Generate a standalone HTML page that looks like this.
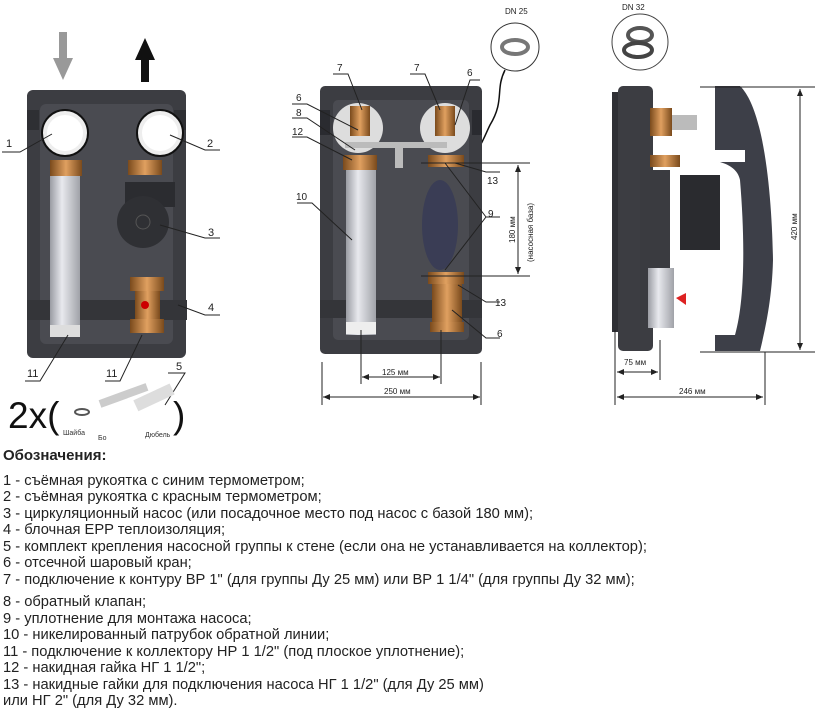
<!DOCTYPE html>
<html><head><meta charset="utf-8"><style>
body{margin:0;background:#fff;width:817px;height:711px;overflow:hidden;position:relative;font-family:"Liberation Sans",sans-serif;}
svg{position:absolute;left:0;top:0}
.t{position:absolute;left:3px;font-size:14.7px;color:#222;white-space:nowrap;line-height:17px}
</style></head><body>
<svg width="817" height="440" viewBox="0 0 817 440" font-family="Liberation Sans, sans-serif">
<defs>
<linearGradient id="pipe" x1="0" x2="1"><stop offset="0" stop-color="#9a9ca3"/><stop offset=".4" stop-color="#e8e9ee"/><stop offset="1" stop-color="#a0a2a8"/></linearGradient>
<linearGradient id="brass" x1="0" x2="1"><stop offset="0" stop-color="#7a4a1c"/><stop offset=".5" stop-color="#e0a060"/><stop offset="1" stop-color="#7a4a1c"/></linearGradient>
</defs>
<!-- LEFT -->
<rect x="59" y="32" width="8" height="28" fill="#999"/><polygon points="53,58 73,58 63,80" fill="#999"/>
<rect x="141" y="58" width="8" height="24" fill="#111"/><polygon points="135,60 155,60 145,38" fill="#111"/>
<rect x="27" y="90" width="159" height="268" rx="6" fill="#3c3d42"/>
<rect x="40" y="104" width="133" height="240" rx="6" fill="#4a4b51"/>
<rect x="27" y="110" width="12" height="20" fill="#2e2f33"/><rect x="174" y="110" width="12" height="20" fill="#2e2f33"/>
<rect x="27" y="300" width="160" height="20" fill="#343539"/>
<rect x="50" y="175" width="30" height="160" fill="url(#pipe)"/>
<rect x="50" y="325" width="30" height="12" fill="#ddd"/>
<rect x="50" y="160" width="32" height="16" fill="url(#brass)"/>
<rect x="128" y="160" width="34" height="15" fill="url(#brass)"/>
<circle cx="65" cy="133" r="23" fill="#eee" stroke="#111" stroke-width="2"/><circle cx="65" cy="133" r="18" fill="#fff"/>
<circle cx="160" cy="133" r="23" fill="#eee" stroke="#111" stroke-width="2"/><circle cx="160" cy="133" r="18" fill="#fff"/>
<rect x="125" y="182" width="50" height="25" fill="#2b2c30"/>
<circle cx="143" cy="222" r="26" fill="#2f3034"/><circle cx="143" cy="222" r="7" fill="none" stroke="#555"/>
<rect x="130" y="277" width="34" height="14" fill="url(#brass)"/>
<rect x="135" y="291" width="25" height="28" fill="url(#brass)"/>
<rect x="130" y="319" width="34" height="14" fill="url(#brass)"/>
<circle cx="145" cy="305" r="4" fill="#c00"/>
<g stroke="#222" fill="none" stroke-width="1">
<path d="M2,152 H20 L52,134"/><path d="M220,150 H205 L170,135"/><path d="M220,238 H205 L160,225"/><path d="M220,315 H205 L178,305"/>
<path d="M25,381 H40 L68,335"/><path d="M105,381 H120 L142,335"/><path d="M168,373 H185 L165,405"/>
</g>
<g font-size="11" fill="#222"><text x="6" y="147">1</text><text x="207" y="147">2</text><text x="208" y="236">3</text><text x="208" y="311">4</text><text x="27" y="377">11</text><text x="106" y="377">11</text><text x="176" y="370">5</text></g>
<text x="8" y="428" font-size="37" fill="#111">2x(</text><text x="173" y="428" font-size="37" fill="#111">)</text>
<ellipse cx="82" cy="412" rx="7" ry="3" fill="none" stroke="#555" stroke-width="2"/>
<rect x="100" y="400" width="50" height="8" fill="#ccc" transform="rotate(-20 100 404)"/>
<rect x="135" y="400" width="40" height="12" fill="#ddd" transform="rotate(-25 135 404)"/>
<g font-size="7" fill="#333"><text x="63" y="435">Шайба</text><text x="98" y="440">Бо</text><text x="145" y="437">Дюбель</text></g>
<!-- MIDDLE -->
<circle cx="515" cy="47" r="24" fill="#fff" stroke="#333"/><ellipse cx="515" cy="47" rx="13" ry="7" fill="none" stroke="#777" stroke-width="4"/>
<text x="505" y="14" font-size="8" fill="#222">DN 25</text>
<path d="M505,70 C495,90 505,100 490,125 C485,135 480,150 468,163" stroke="#111" fill="none" stroke-width="1.5"/>
<rect x="320" y="86" width="162" height="268" rx="5" fill="#3c3d42"/>
<rect x="333" y="100" width="136" height="240" rx="5" fill="#4a4b51"/>
<rect x="320" y="110" width="10" height="25" fill="#2a2b30"/><rect x="472" y="110" width="10" height="25" fill="#2a2b30"/>
<rect x="320" y="300" width="162" height="18" fill="#343539"/>
<circle cx="358" cy="128" r="25" fill="#ddd"/><circle cx="445" cy="128" r="25" fill="#ddd"/>
<rect x="350" y="106" width="20" height="30" fill="url(#brass)"/><rect x="435" y="106" width="20" height="30" fill="url(#brass)"/>
<rect x="345" y="142" width="102" height="6" fill="#bbb"/><rect x="395" y="148" width="8" height="20" fill="#bbb"/>
<rect x="343" y="155" width="34" height="15" fill="url(#brass)"/><rect x="428" y="155" width="36" height="12" fill="url(#brass)"/>
<rect x="346" y="170" width="30" height="165" fill="url(#pipe)"/><rect x="346" y="322" width="30" height="12" fill="#eee"/>
<ellipse cx="440" cy="225" rx="18" ry="45" fill="#3a3d55"/>
<rect x="428" y="272" width="36" height="12" fill="url(#brass)"/><rect x="432" y="284" width="30" height="38" fill="url(#brass)"/><rect x="430" y="322" width="34" height="10" fill="url(#brass)"/>
<g stroke="#222" fill="none" stroke-width="1">
<path d="M333,74 H348 L362,110"/><path d="M410,74 H425 L440,110"/><path d="M480,80 H470 L455,125"/>
<path d="M292,104 H307 L358,130"/><path d="M292,118 H307 L355,150"/><path d="M292,137 H307 L352,160"/>
<path d="M297,203 H312 L352,240"/><path d="M500,172 H486 L455,163"/><path d="M500,302 H486 L458,285"/>
<path d="M500,338 H486 L452,310"/><path d="M500,217 H486 L445,270 M486,217 L445,163"/>
<path d="M421,163 H530 M421,276 H530"/><path d="M361,330 V384 M441,330 V384"/>
<path d="M322,362 V405 M481,362 V405"/><path d="M518,165 V274"/><path d="M362,377 H440"/><path d="M323,397 H480"/>
</g>
<g fill="#222"><polygon points="518,165 515,172 521,172"/><polygon points="518,274 515,267 521,267"/>
<polygon points="362,377 369,374 369,380"/><polygon points="440,377 433,374 433,380"/>
<polygon points="323,397 330,394 330,400"/><polygon points="480,397 473,394 473,400"/></g>
<g font-size="10" fill="#222"><text x="337" y="71">7</text><text x="414" y="71">7</text><text x="467" y="76">6</text>
<text x="296" y="101">6</text><text x="296" y="116">8</text><text x="292" y="135">12</text><text x="296" y="200">10</text>
<text x="487" y="184">13</text><text x="488" y="217">9</text><text x="495" y="306">13</text><text x="497" y="337">6</text></g>
<text x="382" y="375" font-size="8" fill="#222">125 мм</text><text x="384" y="394" font-size="8" fill="#222">250 мм</text>
<text font-size="8" fill="#222" transform="translate(515,243) rotate(-90)">180 мм</text>
<text font-size="8" fill="#222" transform="translate(533,262) rotate(-90)">(насосная база)</text>
<!-- RIGHT -->
<text x="622" y="10" font-size="8" fill="#222">DN 32</text>
<circle cx="640" cy="42" r="28" fill="#fff" stroke="#444"/>
<ellipse cx="640" cy="35" rx="12" ry="7" fill="none" stroke="#555" stroke-width="4"/><ellipse cx="638" cy="50" rx="14" ry="7" fill="none" stroke="#444" stroke-width="4"/>
<rect x="612" y="92" width="8" height="240" fill="#2f3035"/>
<rect x="618" y="86" width="35" height="265" rx="5" fill="#3c3d42"/>
<rect x="640" y="170" width="30" height="150" fill="#3a3b40"/>
<rect x="650" y="108" width="22" height="28" fill="url(#brass)"/><rect x="650" y="155" width="30" height="12" fill="url(#brass)"/>
<rect x="672" y="115" width="25" height="15" fill="#bbb"/>
<rect x="680" y="175" width="40" height="75" fill="#2a2b2f"/>
<rect x="648" y="268" width="26" height="60" fill="url(#pipe)"/>
<path d="M676,298 l10,-5 v12 z" fill="#d22"/>
<path d="M715,86 H740 C765,110 772,200 773,260 C772,300 765,330 760,351 H715 V335 H735 C745,300 745,240 740,180 C738,170 730,165 720,162 H745 V150 H715 Z" fill="#3d3f48"/>
<g stroke="#222" fill="none" stroke-width="1"><path d="M700,87 H815 M700,352 H815 M800,89 V350 M615,330 V405 M660,340 V380 M765,352 V405 M617,372 H658 M617,397 H763"/></g>
<g fill="#222"><polygon points="800,89 797,96 803,96"/><polygon points="800,350 797,343 803,343"/>
<polygon points="617,372 624,369 624,375"/><polygon points="658,372 651,369 651,375"/>
<polygon points="617,397 624,394 624,400"/><polygon points="763,397 756,394 756,400"/></g>
<text x="624" y="365" font-size="8" fill="#222">75 мм</text><text x="679" y="394" font-size="8" fill="#222">246 мм</text>
<text font-size="8" fill="#222" transform="translate(797,240) rotate(-90)">420 мм</text>
</svg>
<div class="t" style="top:447px;font-weight:bold;font-size:15px">Обозначения:</div>
<div class="t" style="top:473px">1 - съёмная рукоятка с синим термометром;</div>
<div class="t" style="top:489px">2 - съёмная рукоятка с красным термометром;</div>
<div class="t" style="top:506px">3 - циркуляционный насос (или посадочное место под насос с базой 180 мм);</div>
<div class="t" style="top:522px">4 - блочная EPP теплоизоляция;</div>
<div class="t" style="top:539px">5 - комплект крепления насосной группы к стене (если она не устанавливается на коллектор);</div>
<div class="t" style="top:555px">6 - отсечной шаровый кран;</div>
<div class="t" style="top:572px">7 - подключение к контуру ВР 1" (для группы Ду 25 мм) или ВР 1 1/4" (для группы Ду 32 мм);</div>
<div class="t" style="top:594px">8 - обратный клапан;</div>
<div class="t" style="top:611px">9 - уплотнение для монтажа насоса;</div>
<div class="t" style="top:627px">10 - никелированный патрубок обратной линии;</div>
<div class="t" style="top:644px">11 - подключение к коллектору НР 1 1/2" (под плоское уплотнение);</div>
<div class="t" style="top:660px">12 - накидная гайка НГ 1 1/2";</div>
<div class="t" style="top:677px">13 - накидные гайки для подключения насоса НГ 1 1/2" (для Ду 25 мм)</div>
<div class="t" style="top:693px">или НГ 2" (для Ду 32 мм).</div>
</body></html>
